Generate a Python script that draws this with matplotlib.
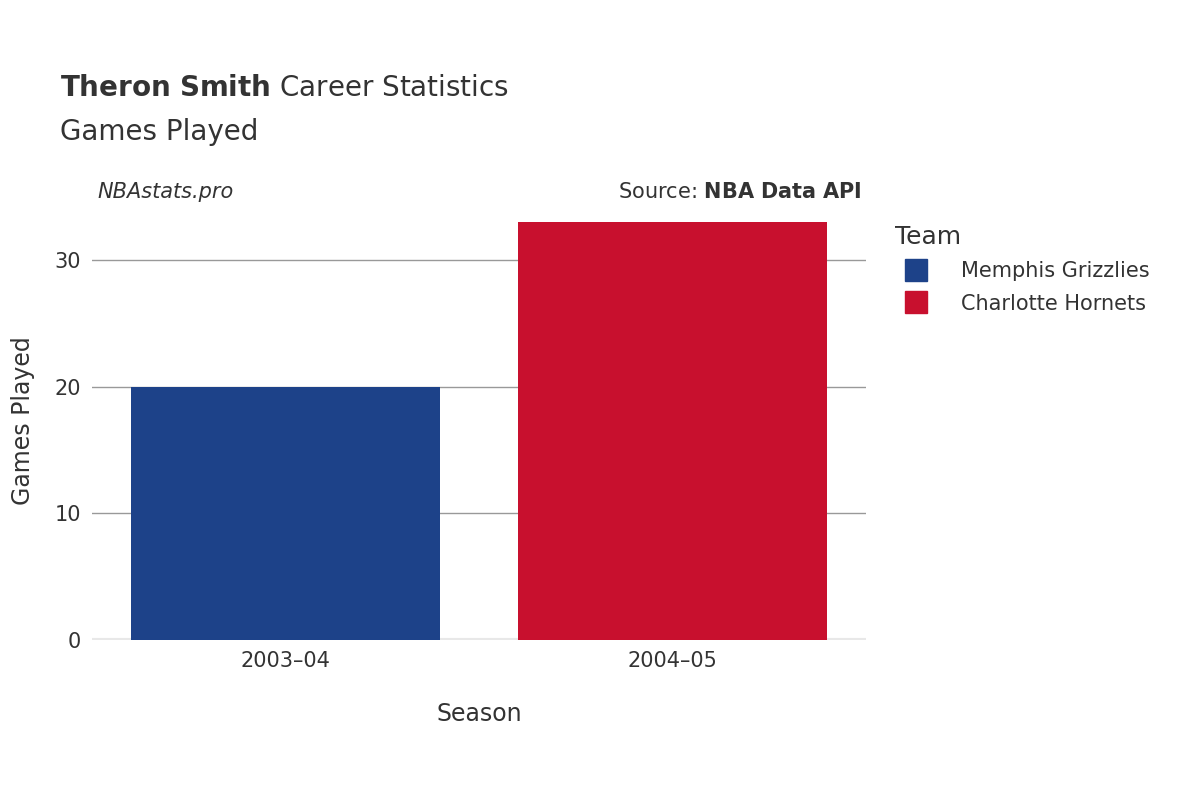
import matplotlib
matplotlib.use("Agg")
from matplotlib import pyplot as plt
from matplotlib.lines import Line2D

seasons = ["2003\u201304", "2004\u201305"]
teams = ["Memphis Grizzlies", "Charlotte Hornets"]
games = [20, 33]
colors = ["#1d4289", "#c8102e"]

plt.rcParams["font.family"] = "DejaVu Sans"
fig = plt.figure(figsize=(12, 8), dpi=100)
ax = fig.add_axes([92/1200, 0.2, (866-92)/1200, 0.549])

x = list(range(len(seasons)))
ax.bar(x, games, width=0.8, color=colors, zorder=3)
ax.set_xlim(-0.5, 1.5)
ax.set_ylim(0, 34.7)
ax.set_yticks([0, 10, 20, 30])
ax.set_xticks(x)
ax.set_xticklabels(seasons)
ax.grid(axis="y", color="#999999", lw=1, zorder=0)
for s in ax.spines.values():
    s.set_visible(False)
ax.axhline(0, color="#e8e8e8", lw=3, zorder=2)
ax.tick_params(length=0, labelsize=15, colors="#333333", pad=8)
ax.set_xlabel("Season", fontsize=17, color="#333333", labelpad=22)
ax.set_ylabel("Games Played", fontsize=17, color="#333333", labelpad=14)

fig.text(60/1200, 1-88/800, r"$\bf{Theron\ Smith}$ Career Statistics", fontsize=20, color="#333333", va="center")
fig.text(60/1200, 1-132/800, "Games Played", fontsize=20, color="#333333", va="center")
fig.text(97/1200, 1-192/800, "NBAstats.pro", fontsize=15, style="italic", color="#333333", va="center")
fig.text(862/1200, 1-192/800, r"Source: $\bf{NBA\ Data\ API}$", fontsize=15, color="#333333", va="center", ha="right")

handles = [Line2D([], [], marker="s", ls="", markersize=16, color=c) for c in colors]
leg = fig.legend(handles, teams, loc="upper left", bbox_to_anchor=(876/1200, 1-206/800),
                 frameon=False, fontsize=15, title="Team", title_fontsize=18,
                 labelcolor="#333333", handletextpad=1.2, labelspacing=0.6)
leg._legend_box.align = "left"
leg.get_title().set_color("#333333")

fig.savefig("out.png")
